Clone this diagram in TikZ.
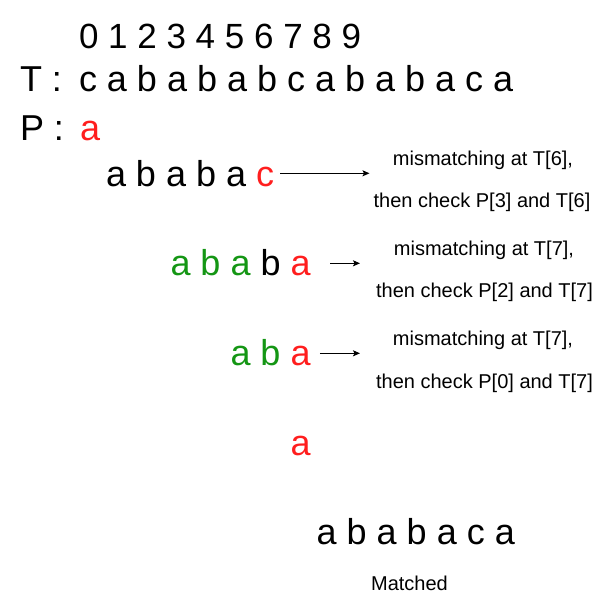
\documentclass[tikz,border=0pt]{standalone}
\usepackage{fontspec}
\setmainfont{Liberation Sans}
\usetikzlibrary{arrows.meta,calc}
\definecolor{mred}{RGB}{255,30,30}
\definecolor{mgreen}{RGB}{20,150,20}
\begin{document}
\begin{tikzpicture}[x=1pt,y=-1pt,
  txt/.style={inner sep=0pt,outer sep=0pt,anchor=base west},
  dig/.style={txt,font=\fontsize{35pt}{40pt}\selectfont},
  big/.style={txt,font=\fontsize{36pt}{42pt}\selectfont},
  pat/.style={txt,font=\fontsize{36pt}{42pt}\selectfont},
  note/.style={inner sep=0pt,outer sep=0pt,anchor=base,font=\fontsize{20pt}{24pt}\selectfont},
  arr/.style={-{Stealth[length=7pt,width=6pt,inset=1.5pt]},line width=1pt}]
\useasboundingbox (0,0) rectangle (616,614);
% header rows
\node[dig] (idx) at (79,48) {0 1 2 3 4 5 6 7 8 9};
\node[big] (tl) at (20,91) {T :};
\node[big] (tx) at (79,91) {c a b a b a b c a b a b a c a};
\node[big] (pl) at (20,140) {P :};
\node[big,text=mred] (px) at (80,140) {a};
% pattern rows
\node[pat] (r1) at (106,186) {a b a b a \textcolor{mred}{c}};
\node[pat] (r2) at (170.5,275) {\textcolor{mgreen}{a b a} b \textcolor{mred}{a}};
\node[pat] (r3) at (230.5,365) {\textcolor{mgreen}{a b} \textcolor{mred}{a}};
\node[pat,text=mred] (r4) at (290.7,455) {a};
\node[pat] (r5) at (316.7,544) {a b a b a c a};
% notes
\node[note] (n1a) at (483,165) {mismatching at T[6],};
\node[note] (n1b) at (482,207) {then check P[3] and T[6]};
\node[note] (n2a) at (484,255) {mismatching at T[7],};
\node[note] (n2b) at (484.5,297) {then check P[2] and T[7]};
\node[note] (n3a) at (483,345) {mismatching at T[7],};
\node[note] (n3b) at (484.5,388) {then check P[0] and T[7]};
\node[note] (m) at (409.5,590) {Matched};
% arrows
\coordinate (e1) at (369.5,173.3);
\coordinate (e2) at (360,263.3);
\coordinate (e3) at (360,353.3);
\draw[arr] ($(r1.east |- e1)+(6,0)$) -- (e1);
\draw[arr] ($(r2.east |- e2)+(19.4,0)$) -- (e2);
\draw[arr] ($(r3.east |- e3)+(9.4,0)$) -- (e3);
\end{tikzpicture}
\end{document}
